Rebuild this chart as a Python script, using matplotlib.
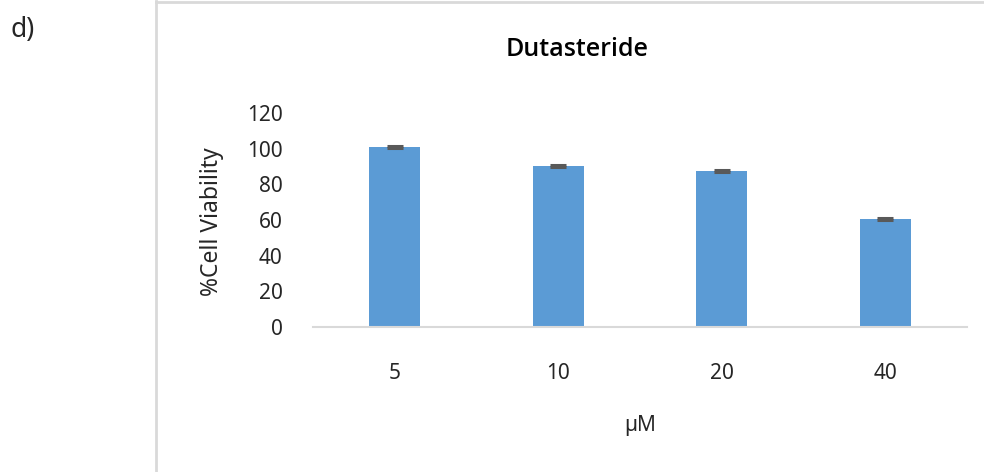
import matplotlib
matplotlib.use("Agg")
import matplotlib.pyplot as plt
from matplotlib.lines import Line2D

# Data
doses = ["5", "10", "20", "40"]
viability = [100.8, 90.3, 87.5, 60.6]
viability_err = [0.6, 0.6, 0.6, 0.6]
y_ticks = [0, 20, 40, 60, 80, 100, 120]

W, H = 984, 472
fig = plt.figure(figsize=(W / 100, H / 100), dpi=100)
fig.patch.set_facecolor("white")
plt.rcParams["font.family"] = ["Noto Sans", "DejaVu Sans"]

# Plot area in pixel coordinates
x0, x1 = 313, 967
y_top, y_bot = 113, 327
ax = fig.add_axes([x0 / W, 1 - y_bot / H, (x1 - x0) / W, (y_bot - y_top) / H])

xs = list(range(len(doses)))
ax.bar(xs, viability, width=0.31, color="#5B9BD5", zorder=2)
ax.errorbar(xs, viability, yerr=viability_err, fmt="none", ecolor="#595959",
            elinewidth=1.2, capsize=6, capthick=2.2, zorder=3)

ax.set_xlim(-0.5, len(doses) - 0.5)
ax.set_ylim(0, 120)
ax.set_yticks(y_ticks)
ax.set_xticks(xs)
ax.set_xticklabels(doses)

for side in ["top", "right", "left"]:
    ax.spines[side].set_visible(False)
ax.spines["bottom"].set_color("#D9D9D9")
ax.spines["bottom"].set_linewidth(1.5)
ax.tick_params(axis="both", length=0, labelsize=15)
ax.tick_params(axis="x", pad=26)
ax.tick_params(axis="y", pad=22)
for lab in ax.get_xticklabels() + ax.get_yticklabels():
    lab.set_color("#262626")

fig.text(212 / W, 1 - 222 / H, "%Cell Viability", ha="center", va="center",
         rotation=90, fontsize=16.5, color="#262626")
fig.text(640 / W, 1 - 426 / H, "µM", ha="center", va="center",
         fontsize=15, color="#262626")
fig.text(577 / W, 1 - 49 / H, "Dutasteride", ha="center", va="center",
         fontsize=18, fontweight="semibold", family=["Open Sans", "DejaVu Sans"],
         color="#000000")
fig.text(11 / W, 1 - 30 / H, "d)", ha="left", va="center",
         fontsize=19, color="#262626")

# Chart frame (left and top edges)
frame_kw = dict(color="#D9D9D9", linewidth=2, transform=fig.transFigure)
fig.add_artist(Line2D([155.5 / W, 155.5 / W], [0, 1 - 1 / H], **frame_kw))
fig.add_artist(Line2D([155.5 / W, 1], [1 - 1.5 / H, 1 - 1.5 / H], **frame_kw))

fig.savefig("out.png", dpi=100, facecolor="white")
